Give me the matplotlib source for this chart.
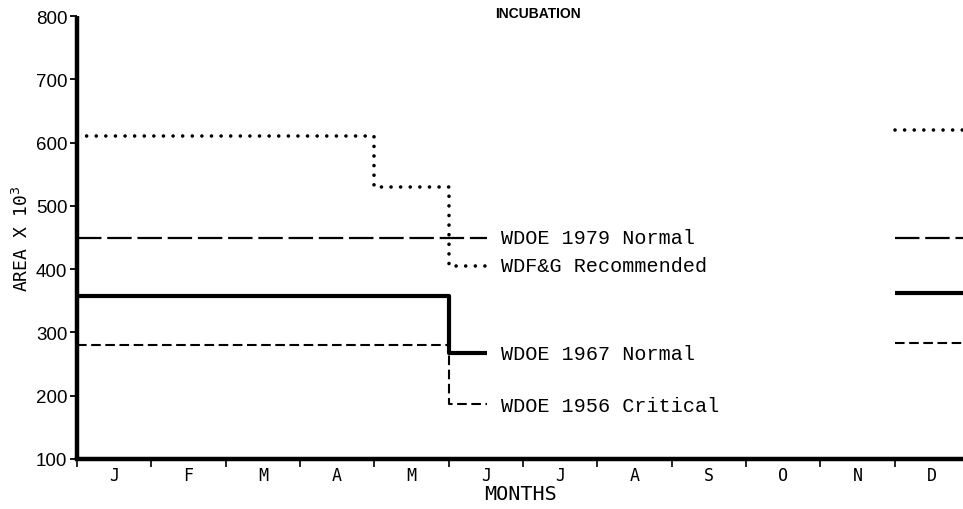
import matplotlib
matplotlib.use("Agg")
import matplotlib.pyplot as plt
from matplotlib.ticker import FixedLocator, NullFormatter

# Month axis: 0 = start of January, 12 = end of December
months = ["J", "F", "M", "A", "M", "J", "J", "A", "S", "O", "N", "D"]

# Step series (steps-post): breakpoints in months, area x 10^3
wdfg_x = [0, 4, 5, 5.52]
wdfg_y = [610, 530, 405, 405]
wdoe79_x = [0, 5.52]
wdoe79_y = [450, 450]
wdoe67_x = [0, 5, 5.52]
wdoe67_y = [358, 267, 267]
wdoe56_x = [0, 5, 5.52]
wdoe56_y = [280, 187, 187]

# December levels
dec_x = [11, 11.92]
wdfg_dec = 620
wdoe79_dec = 450
wdoe67_dec = 362
wdoe56_dec = 283

labels = ["WDOE 1979 Normal", "WDF&G Recommended", "WDOE 1967 Normal", "WDOE 1956 Critical"]
label_y = [450, 405, 267, 185]

fig = plt.figure(figsize=(9.63, 5.10), dpi=100)
ax = fig.add_axes([77 / 963, 50 / 510, 886 / 963, 443 / 510])

dot = dict(color="black", lw=2.6, ls=(0, (0.01, 2.65)), dash_capstyle="round")
longdash = dict(color="black", lw=1.6, ls=(0, (11, 2.6)))
solid = dict(color="black", lw=3.0, solid_capstyle="butt")
shortdash = dict(color="black", lw=1.5, ls=(0, (4.6, 2.2)))

ax.plot(wdfg_x, wdfg_y, drawstyle="steps-post", **dot)
ax.plot(wdoe79_x, wdoe79_y, drawstyle="steps-post", **longdash)
ax.plot(wdoe67_x, wdoe67_y, drawstyle="steps-post", **solid)
ax.plot(wdoe56_x, wdoe56_y, drawstyle="steps-post", **shortdash)

ax.plot(dec_x, [wdfg_dec] * 2, **dot)
ax.plot(dec_x, [wdoe79_dec] * 2, **longdash)
ax.plot(dec_x, [wdoe67_dec] * 2, **solid)
ax.plot(dec_x, [wdoe56_dec] * 2, **shortdash)

for txt, y in zip(labels, label_y):
    ax.text(5.7, y, txt, family="Liberation Mono", fontsize=14.5,
            va="center", ha="left")

ax.set_xlim(0, 11.92)
ax.set_ylim(100, 800)

for side in ("top", "right"):
    ax.spines[side].set_visible(False)
ax.spines["left"].set_linewidth(3.2)
ax.spines["bottom"].set_linewidth(3.2)
ax.spines["left"].set_capstyle("butt")

ax.set_yticks(range(100, 801, 100))
ax.tick_params(axis="y", direction="out", length=5, width=1.3, pad=2,
               labelsize=13.5)
for lab in ax.get_yticklabels():
    lab.set_family("Liberation Sans")

# Month boundaries as ticks, month names centred between them
ax.xaxis.set_major_locator(FixedLocator(range(0, 12)))
ax.xaxis.set_major_formatter(NullFormatter())
ax.xaxis.set_minor_locator(FixedLocator([i + 0.5 for i in range(12)]))
ax.set_xticklabels(months, minor=True)
ax.tick_params(axis="x", which="major", direction="out", length=6, width=1.2)
ax.tick_params(axis="x", which="minor", length=0, pad=5, labelsize=12)
for lab in ax.get_xticklabels(minor=True):
    lab.set_family("DejaVu Sans Mono")

ax.set_xlabel("MONTHS", family="DejaVu Sans Mono", fontsize=14.5, labelpad=0)
ax.set_ylabel(r"AREA X 10$^3$", family="DejaVu Sans Mono", fontsize=13,
              labelpad=3)

fig.text(538 / 963, 1 - 14 / 510, "INCUBATION", family="Liberation Sans",
         fontweight="bold", fontsize=10, ha="center", va="center")

fig.savefig("out.png", dpi=100)
